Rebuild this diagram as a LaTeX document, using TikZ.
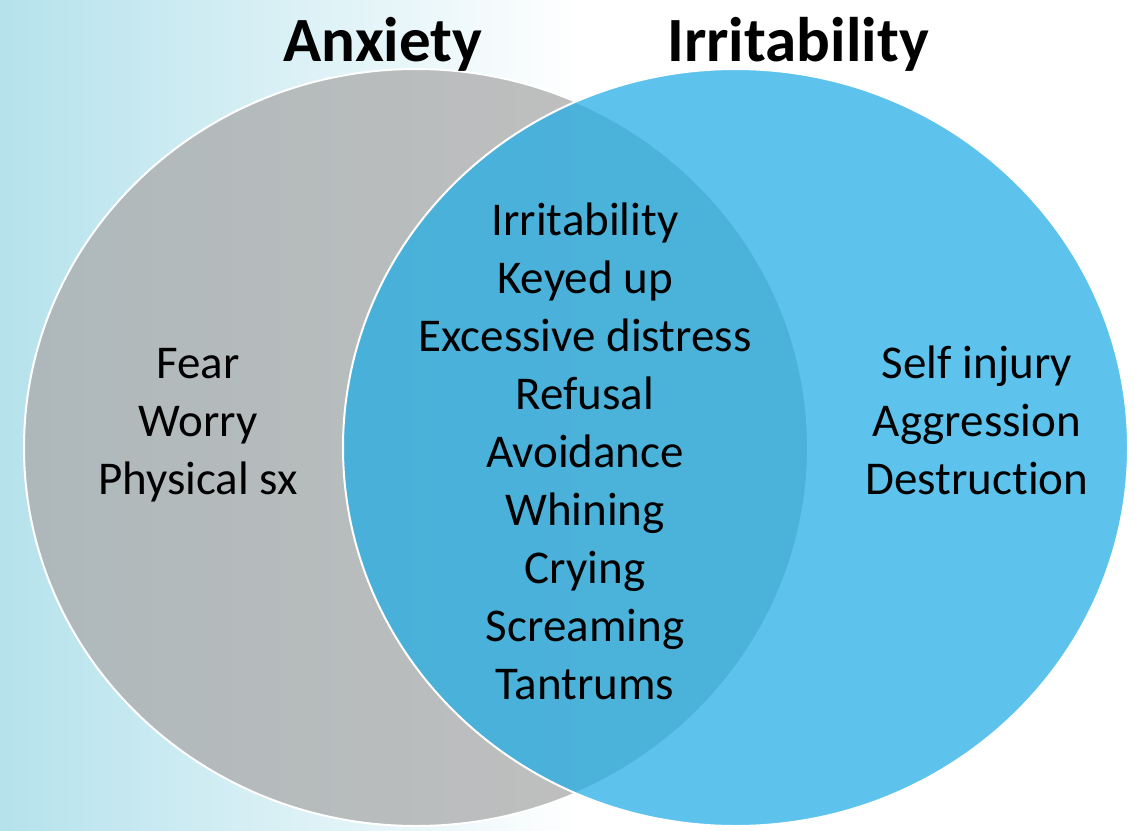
\documentclass[tikz,border=0pt]{standalone}
\usepackage{fontspec}
\setmainfont{Carlito}[Ligatures=NoCommon]
\definecolor{anxgray}{RGB}{171,171,171}
\definecolor{irrblue}{RGB}{31,173,229}
\definecolor{paleteal}{RGB}{181,226,236}
\tikzset{
  setbody/.style={draw=white, line width=2pt},
  item/.style={anchor=base, inner sep=0pt, font=\fontsize{47}{57}\selectfont},
  heading/.style={anchor=base, inner sep=0pt, font=\fontsize{63}{75}\selectfont\bfseries}
}

\begin{document}
\begin{tikzpicture}[x=1pt, y=-1pt]
  \useasboundingbox (0,0) rectangle (1135,830);
  \fill[white] (0,0) rectangle (1135,830);
  \shade[left color=paleteal, right color=white] (0,0) rectangle (580,830);

  % the two sets
  \draw[setbody, fill=anxgray, fill opacity=0.76] (416,447.5) ellipse [x radius=392, y radius=378.5];
  \draw[setbody, fill=irrblue, fill opacity=0.72] (735.5,447.5) ellipse [x radius=392.5, y radius=378.5];

  \node[heading] (anxiety) at (383,61) {Anxiety};
  \node[heading] (irritability) at (798,61) {Irritability};

  \foreach \txt [count=\i] in {Fear, Worry, Physical sx}
    \node[item] (anx\i) at (198, {320+58*\i}) {\txt};
  \foreach \txt [count=\i] in {Self injury, Aggression, Destruction}
    \node[item] (irr\i) at (977, {320+58*\i}) {\txt};
  \foreach \txt [count=\i] in {Irritability, Keyed up, Excessive distress, Refusal, Avoidance, Whining, Crying, Screaming, Tantrums}
    \node[item] (both\i) at (585, {177+58*\i}) {\txt};
\end{tikzpicture}
\end{document}
